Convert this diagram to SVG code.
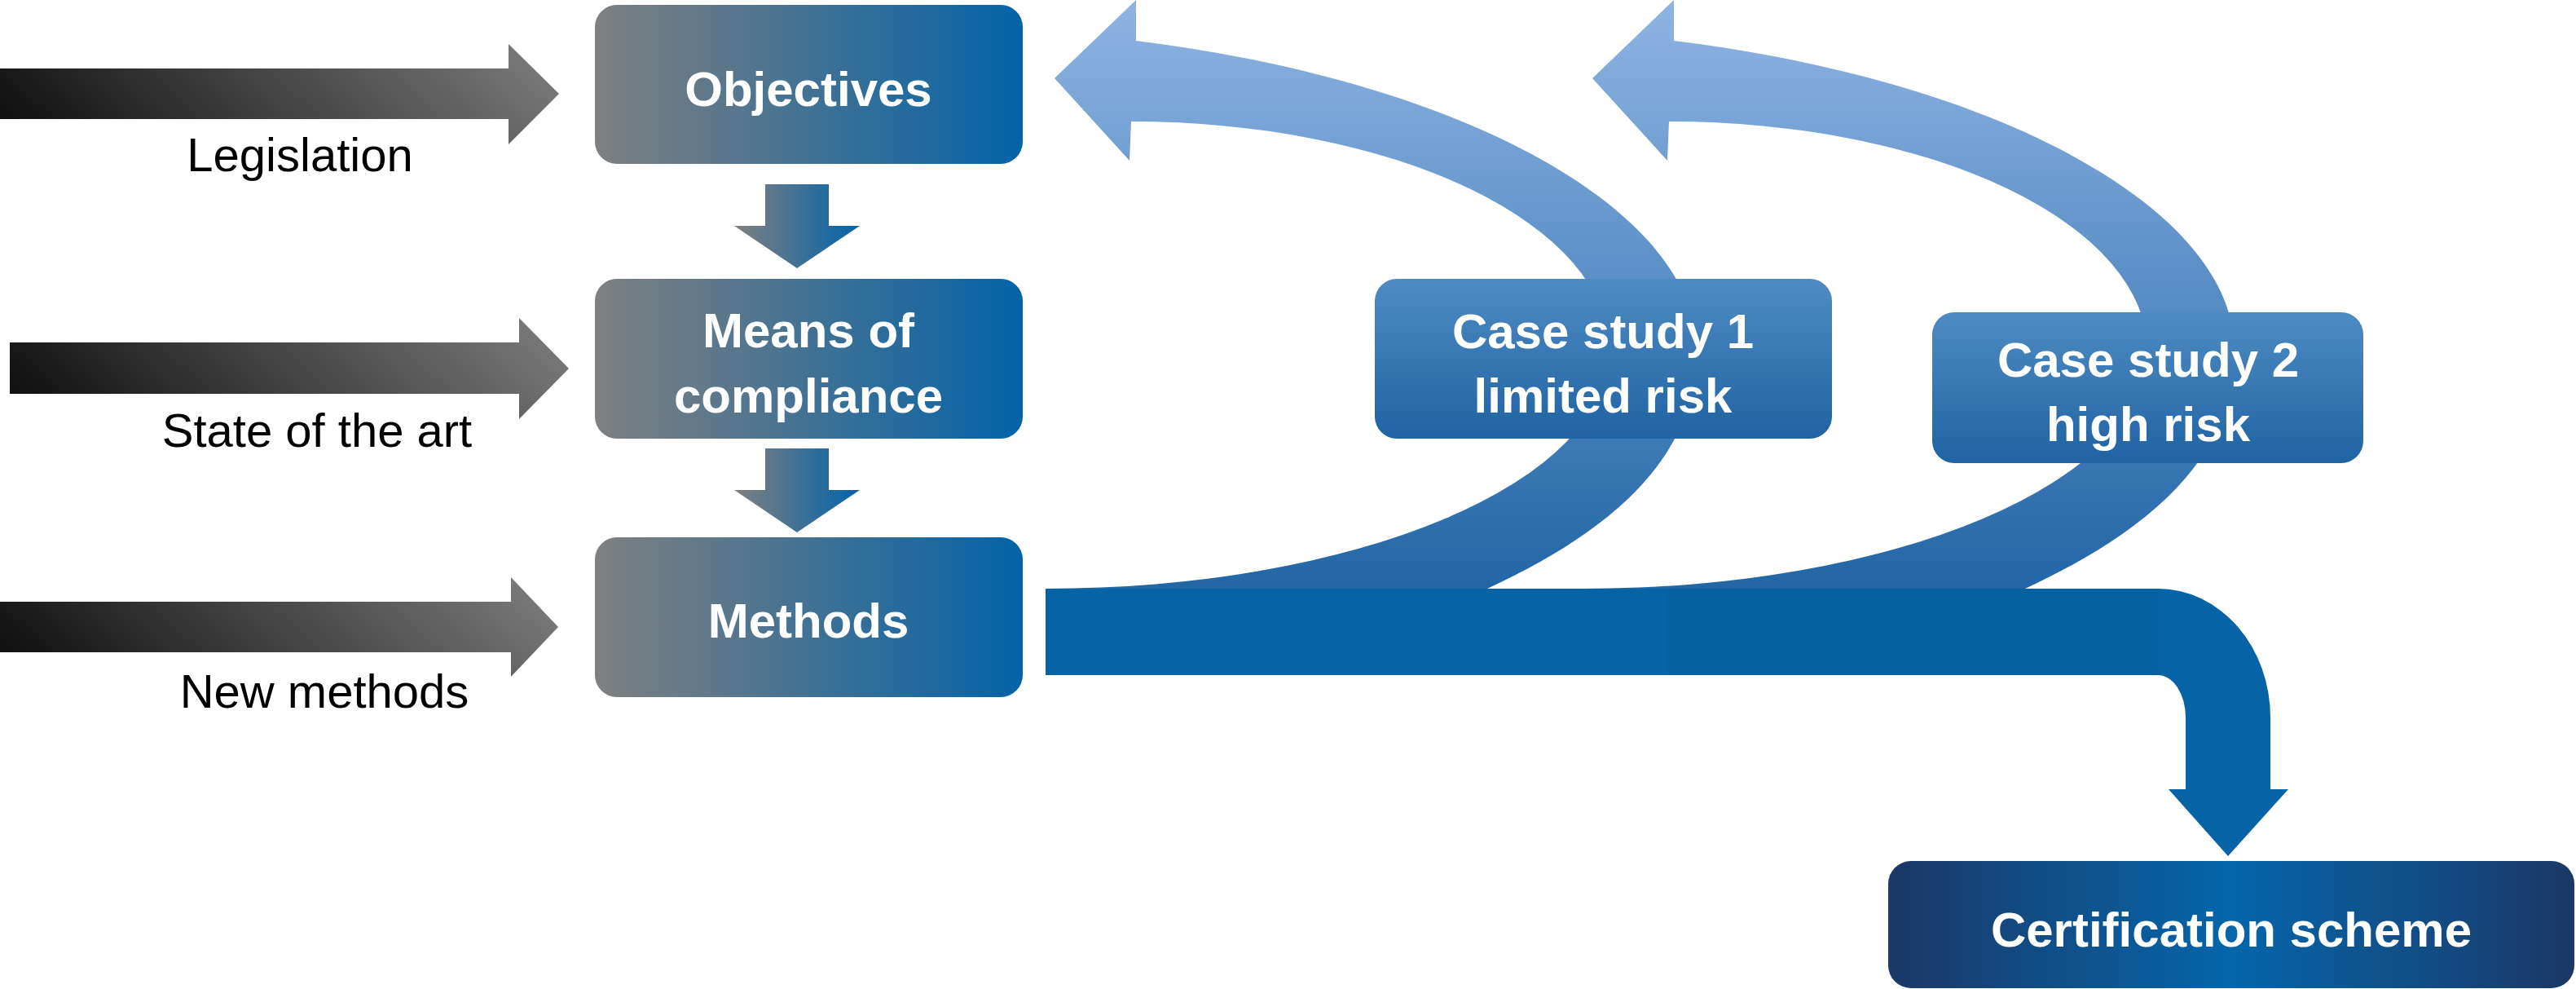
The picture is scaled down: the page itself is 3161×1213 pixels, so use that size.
<svg xmlns="http://www.w3.org/2000/svg" width="3161" height="1213" viewBox="0 0 3161 1213">
<defs>
<linearGradient id="gBox" x1="0" y1="0" x2="1" y2="0">
<stop offset="0" stop-color="#808080"/>
<stop offset="1" stop-color="#0363a8"/>
</linearGradient>
<linearGradient id="gIn" x1="0" y1="0.6" x2="1" y2="0.4">
<stop offset="0" stop-color="#121212"/>
<stop offset="1" stop-color="#787878"/>
</linearGradient>
<linearGradient id="gArc" gradientUnits="userSpaceOnUse" x1="0" y1="0" x2="0" y2="722">
<stop offset="0" stop-color="#8fb4e3"/>
<stop offset="1" stop-color="#2266a6"/>
</linearGradient>
<linearGradient id="gCase" x1="0" y1="0" x2="0" y2="1">
<stop offset="0" stop-color="#4f8bc3"/>
<stop offset="1" stop-color="#1f63a3"/>
</linearGradient>
<linearGradient id="gCert" x1="0" y1="0" x2="1" y2="0">
<stop offset="0" stop-color="#1b3866"/>
<stop offset="0.5" stop-color="#0566ab"/>
<stop offset="1" stop-color="#1b3866"/>
</linearGradient>
<style>
.lbl{font-family:"Liberation Sans",Arial,sans-serif;font-size:58px;fill:#000;text-anchor:middle}
.bt{font-family:"Liberation Sans",Arial,sans-serif;font-size:60px;font-weight:bold;fill:#fff;text-anchor:middle}
.box{fill:url(#gBox)}
.case{fill:url(#gCase)}
.arc{fill:url(#gArc)}
</style>
</defs>

<g id="connectors">
<polygon id="in-legislation" fill="url(#gIn)" points="0,84 624,84 624,54 686,115 624,177 624,146 0,146"/>
<polygon id="in-state" fill="url(#gIn)" points="12,420 637,420 637,390 698,452 637,514 637,483 12,483"/>
<polygon id="in-methods" fill="url(#gIn)" points="0,738 627,738 627,708 685,769 627,830 627,800 0,800"/>
<polygon id="down1" class="box" points="939,226 1017,226 1017,277 1055,277 978,329 901,277 939,277"/>
<polygon id="down2" class="box" points="939,550 1017,550 1017,601 1055,601 978,653 901,601 939,601"/>
<path id="loop1" class="arc" d="M1394 50 C1800 100 2082 260 2082 430 C2082 560 1980 650 1825 722 L1283 722 A692 292 0 0 0 1975 430 A587 281 0 0 0 1388 149 L1386 197 L1294 96 L1394 0 Z"/>
<path id="loop2" class="arc" transform="translate(660,0)" d="M1394 50 C1800 100 2082 260 2082 430 C2082 560 1980 650 1825 722 L1283 722 A692 292 0 0 0 1975 430 A587 281 0 0 0 1388 149 L1386 197 L1294 96 L1394 0 Z"/>
<path id="main-flow" fill="#0563a6" d="M1283 722 L2648 722 A138 158 0 0 1 2786 880 L2786 968 L2808 968 L2734 1050 L2661 968 L2682 968 L2682 880 A34 52 0 0 0 2648 828 L1283 828 Z"/>
<rect x="2046" y="722" width="602" height="106" fill="#07609f" opacity="0.5"/>
</g>

<g id="labels">
<text class="lbl" x="368" y="210">Legislation</text>
<text class="lbl" x="389" y="548">State of the art</text>
<text class="lbl" x="398" y="868">New methods</text>
</g>

<g id="objectives">
<rect class="box" x="730" y="6" width="525" height="195" rx="27"/>
<text class="bt" x="992" y="130">Objectives</text>
</g>
<g id="means">
<rect class="box" x="730" y="342" width="525" height="196" rx="27"/>
<text class="bt" x="992" y="426">Means of</text>
<text class="bt" x="992" y="506">compliance</text>
</g>
<g id="methods">
<rect class="box" x="730" y="659" width="525" height="196" rx="27"/>
<text class="bt" x="992" y="782">Methods</text>
</g>
<g id="case1">
<rect class="case" x="1687" y="342" width="561" height="196" rx="27"/>
<text class="bt" x="1967" y="427">Case study 1</text>
<text class="bt" x="1967" y="506">limited risk</text>
</g>
<g id="case2">
<rect class="case" x="2371" y="383" width="529" height="185" rx="27"/>
<text class="bt" x="2636" y="462">Case study 2</text>
<text class="bt" x="2636" y="541">high risk</text>
</g>
<g id="certification">
<rect fill="url(#gCert)" x="2317" y="1056" width="842" height="156" rx="28"/>
<text class="bt" x="2738" y="1161">Certification scheme</text>
</g>
</svg>
